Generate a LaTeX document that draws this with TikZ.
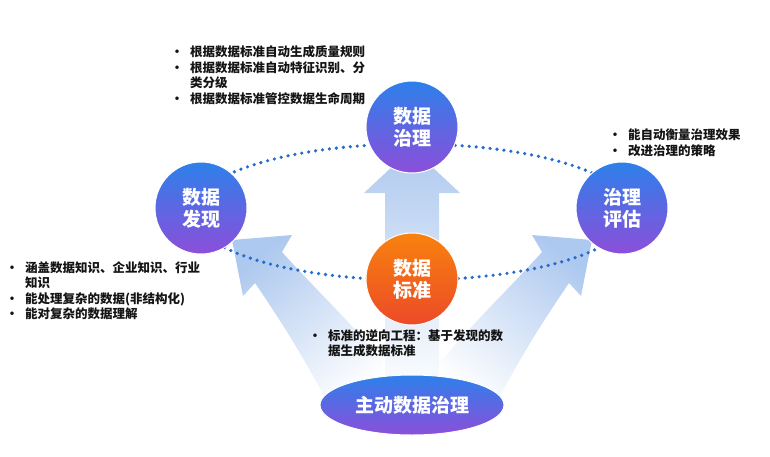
\documentclass[tikz,border=0pt]{standalone}
\usepackage{fontspec}
\setmainfont{Noto Sans CJK SC}
\usetikzlibrary{shapes.geometric, positioning}

\definecolor{topblue}{RGB}{45,128,234}
\definecolor{botpurple}{RGB}{140,78,218}
\definecolor{toporange}{RGB}{248,130,14}
\definecolor{botred}{RGB}{236,74,40}
\definecolor{arrowblue}{RGB}{140,178,232}
\definecolor{dotblue}{RGB}{38,108,205}
\definecolor{ink}{RGB}{20,20,20}

\newcommand{\bl}{\makebox[16pt][l]{\hspace{3pt}\makebox[0pt][c]{•}}}
\newcommand{\cont}{\hspace{16pt}}

\begin{document}
\begin{tikzpicture}[x=1pt, y=-1pt,
    stage/.style = {circle, minimum size=92pt, inner sep=0pt, draw=white, line width=1pt, top color=topblue, bottom color=botpurple, text=white, align=center, font=\fontsize{19}{22}\selectfont\bfseries},
    core/.style = {stage, top color=toporange, bottom color=botred},
    base/.style = {ellipse, minimum width=184pt, minimum height=60pt, inner sep=0pt, draw=white, line width=1pt, top color=topblue, bottom color=botpurple, text=white, font=\fontsize{19}{22}\selectfont\bfseries},
    notes/.style = {anchor=base west, inner sep=0pt, text=ink, font=\fontsize{12.5}{15.5}\selectfont\bfseries},
    flow/.style = {fill opacity=0.7, top color=arrowblue, bottom color=white, draw=none}]

    \useasboundingbox (0,0) rectangle (770,457);

    % wide arrows from the base
    \path[flow, shading angle=38] (325,398) .. controls (300,350) and (272,308) .. (255,283) -- (243,296) -- (232,240) -- (292,235) -- (282,252) .. controls (325,300) and (375,345) .. (405,392) -- cycle;
    \path[flow, shading angle=-38] (499,398) .. controls (524,350) and (552,308) .. (569,283) -- (581,296) -- (592,240) -- (532,235) -- (542,252) .. controls (499,300) and (449,345) .. (419,392) -- cycle;
    \path[flow] (385,395) -- (385,193) -- (364,193) -- (412,148) -- (460,193) -- (439,193) -- (439,395) -- cycle;

    % dotted ring
    \draw[dotblue, line width=3.6pt, line cap=round, dash pattern=on 0pt off 7pt] (412,212) ellipse [x radius=220, y radius=68];

    \node[stage] (gov) at (412,127) {数据\\治理};
    \node[stage] (disc) at (201,208) {数据\\发现};
    \node[stage] (eval) at (622,208) {治理\\评估};
    \node[core, below=59pt of gov] (std) {数据\\标准};
    \node[base, below=49pt of std] (active) {主动数据治理};

    \node[notes] (govnote) at (174,57) {\begin{tabular}[t]{@{}l@{}}
        \bl 根据数据标准自动生成质量规则\\
        \bl 根据数据标准自动特征识别、分\\
        \cont 类分级\\
        \bl 根据数据标准管控数据生命周期
    \end{tabular}};
    \node[notes] (evalnote) at (612,140) {\begin{tabular}[t]{@{}l@{}}
        \bl 能自动衡量治理效果\\
        \bl 改进治理的策略
    \end{tabular}};
    \node[notes] (discnote) at (9,272) {\begin{tabular}[t]{@{}l@{}}
        \bl 涵盖数据知识、企业知识、行业\\
        \cont 知识\\
        \bl 能处理复杂的数据(非结构化)\\
        \bl 能对复杂的数据理解
    \end{tabular}};
    \node[notes] (stdnote) at (312,340) {\begin{tabular}[t]{@{}l@{}}
        \bl 标准的逆向工程：基于发现的数\\
        \cont 据生成数据标准
    \end{tabular}};
\end{tikzpicture}
\end{document}
